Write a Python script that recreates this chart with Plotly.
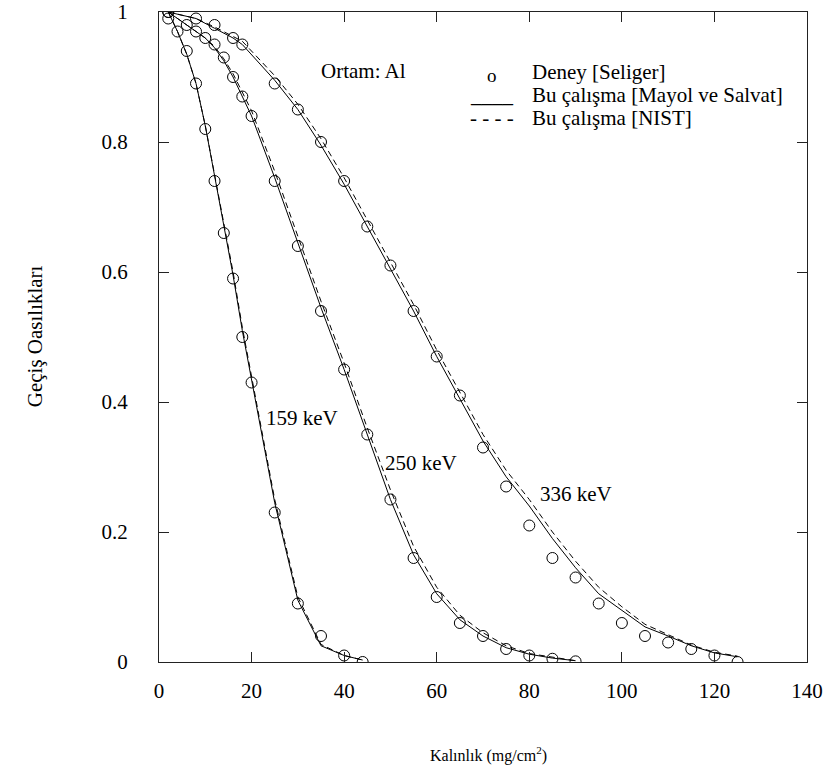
import plotly.graph_objects as go

# ---------------- data ----------------
# Experiment (Seliger) - open circles
x159_exp = [2, 4, 6, 8, 10, 12, 14, 16, 18, 20, 25, 30, 35, 40, 44]
y159_exp = [1.0, 0.97, 0.94, 0.89, 0.82, 0.74, 0.66, 0.59, 0.50, 0.43, 0.23, 0.09, 0.04, 0.01, 0.0]

x250_exp = [2, 6, 8, 10, 12, 14, 16, 18, 20, 25, 30, 35, 40, 45, 50, 55, 60, 65, 70, 75, 80, 85, 90]
y250_exp = [0.99, 0.98, 0.97, 0.96, 0.95, 0.93, 0.90, 0.87, 0.84, 0.74, 0.64, 0.54, 0.45, 0.35,
            0.25, 0.16, 0.10, 0.06, 0.04, 0.02, 0.01, 0.005, 0.001]

x336_exp = [2, 8, 12, 16, 18, 25, 30, 35, 40, 45, 50, 55, 60, 65, 70, 75, 80, 85, 90, 95,
            100, 105, 110, 115, 120, 125]
y336_exp = [1.0, 0.99, 0.98, 0.96, 0.95, 0.89, 0.85, 0.80, 0.74, 0.67, 0.61, 0.54, 0.47, 0.41,
            0.33, 0.27, 0.21, 0.16, 0.13, 0.09, 0.06, 0.04, 0.03, 0.02, 0.01, 0.0]

# This work [Mayol ve Salvat] - solid
x159_ms = [2, 4, 6, 8, 10, 12, 14, 16, 18, 20, 25, 30, 35, 40, 44]
y159_ms = [1.0, 0.97, 0.935, 0.89, 0.825, 0.75, 0.67, 0.595, 0.51, 0.435, 0.245, 0.095, 0.025, 0.01, 0.003]
x250_ms = [2, 6, 8, 10, 12, 14, 16, 18, 20, 25, 30, 35, 40, 45, 50, 55, 60, 65, 70, 75, 80, 85, 90]
y250_ms = [1.0, 0.98, 0.97, 0.96, 0.945, 0.925, 0.90, 0.87, 0.84, 0.745, 0.645, 0.545, 0.45, 0.35,
           0.25, 0.165, 0.105, 0.065, 0.04, 0.022, 0.012, 0.006, 0.002]
x336_ms = [2, 8, 12, 16, 18, 25, 30, 35, 40, 45, 50, 55, 60, 65, 70, 75, 80, 85, 90, 95,
           100, 105, 110, 115, 120, 125]
y336_ms = [1.0, 0.99, 0.975, 0.96, 0.95, 0.895, 0.85, 0.795, 0.735, 0.67, 0.605, 0.54, 0.47, 0.405,
           0.34, 0.285, 0.24, 0.19, 0.145, 0.105, 0.08, 0.054, 0.04, 0.025, 0.014, 0.008]

# This work [NIST] - dashed
y159_nist = [1.0, 0.97, 0.935, 0.89, 0.825, 0.75, 0.675, 0.60, 0.515, 0.44, 0.25, 0.10, 0.027, 0.01, 0.003]
y250_nist = [1.0, 0.98, 0.97, 0.96, 0.947, 0.928, 0.905, 0.877, 0.848, 0.755, 0.655, 0.555, 0.46, 0.36,
             0.265, 0.178, 0.115, 0.072, 0.045, 0.025, 0.013, 0.007, 0.002]
y336_nist = [1.0, 0.99, 0.977, 0.963, 0.955, 0.902, 0.858, 0.805, 0.745, 0.68, 0.615, 0.55, 0.48, 0.415,
             0.35, 0.295, 0.25, 0.20, 0.155, 0.115, 0.085, 0.058, 0.042, 0.026, 0.015, 0.009]

x_ticks = [0, 20, 40, 60, 80, 100, 120, 140]
y_ticks = [0, 0.2, 0.4, 0.6, 0.8, 1]
y_ticklabels = ["0", "0.2", "0.4", "0.6", "0.8", "1"]

FONT = "Liberation Serif"

fig = go.Figure()

for xs, ys in [(x159_ms, y159_nist), (x250_ms, y250_nist), (x336_ms, y336_nist)]:
    fig.add_trace(go.Scatter(x=xs, y=ys, mode="lines",
                             line=dict(color="black", width=1, dash="6px,4px"),
                             showlegend=False, hoverinfo="skip"))
for xs, ys in [(x159_ms, y159_ms), (x250_ms, y250_ms), (x336_ms, y336_ms)]:
    fig.add_trace(go.Scatter(x=xs, y=ys, mode="lines",
                             line=dict(color="black", width=1),
                             showlegend=False))
for xs, ys in [(x159_exp, y159_exp), (x250_exp, y250_exp), (x336_exp, y336_exp)]:
    fig.add_trace(go.Scatter(x=xs, y=ys, mode="markers",
                             marker=dict(symbol="circle-open", size=11,
                                         color="black", line=dict(width=1, color="black")),
                             showlegend=False))

axis_common = dict(
    showgrid=False, zeroline=False, showline=True, linecolor="#222", linewidth=1,
    mirror="ticks", ticks="inside", ticklen=10, tickwidth=1, tickcolor="#222",
    tickfont=dict(family=FONT, size=21, color="black"), automargin=False,
)
fig.update_xaxes(range=[0, 140], tickvals=x_ticks, ticklabelstandoff=10, **axis_common)
fig.update_yaxes(range=[0, 1], tickvals=y_ticks, ticktext=y_ticklabels,
                 ticklabelstandoff=26, **axis_common)

annos = [
    dict(x=44.1, y=0.91, text="Ortam: Al"),
    dict(x=30.9, y=0.375, text="159 keV"),
    dict(x=56.6, y=0.306, text="250 keV"),
    dict(x=90.1, y=0.258, text="336 keV"),
]
for a in annos:
    fig.add_annotation(x=a["x"], y=a["y"], xref="x", yref="y", text=a["text"],
                       showarrow=False, font=dict(family=FONT, size=21, color="black"))

# in-plot legend
leg_rows = [
    ("o", "Deney [Seliger]", 0.907, 19, -3),
    ("____", "Bu çalışma [Mayol ve Salvat]", 0.872, 21, 0),
    ("- - - -", "Bu çalışma [NIST]", 0.837, 21, 0),
]
for sym, txt, yy, ssize, ysh in leg_rows:
    fig.add_annotation(x=71.9, y=yy, xref="x", yref="y", text=sym, showarrow=False,
                       xanchor="center", yshift=ysh,
                       font=dict(family=FONT, size=ssize, color="black"))
    fig.add_annotation(x=80.1, y=yy, xref="x", yref="y", text=txt, showarrow=False,
                       xanchor="left", font=dict(family=FONT, size=21, color="black"))

# axis titles
fig.add_annotation(x=0.508, y=-0.143, xref="paper", yref="paper", yanchor="middle",
                   text="Kalınlık (mg/cm<sup>2</sup>)", showarrow=False,
                   font=dict(family=FONT, size=16, color="black"))
fig.add_annotation(x=-0.191, y=0.5015, xref="paper", yref="paper", xanchor="center",
                   yanchor="middle",
                   text="Geçiş Oasılıkları", showarrow=False, textangle=-90,
                   font=dict(family=FONT, size=21, color="black"))

fig.update_layout(
    width=828, height=778,
    margin=dict(l=159, r=21, t=12, b=116),
    paper_bgcolor="white", plot_bgcolor="white",
    showlegend=False,
)

fig.write_html("out.html")
